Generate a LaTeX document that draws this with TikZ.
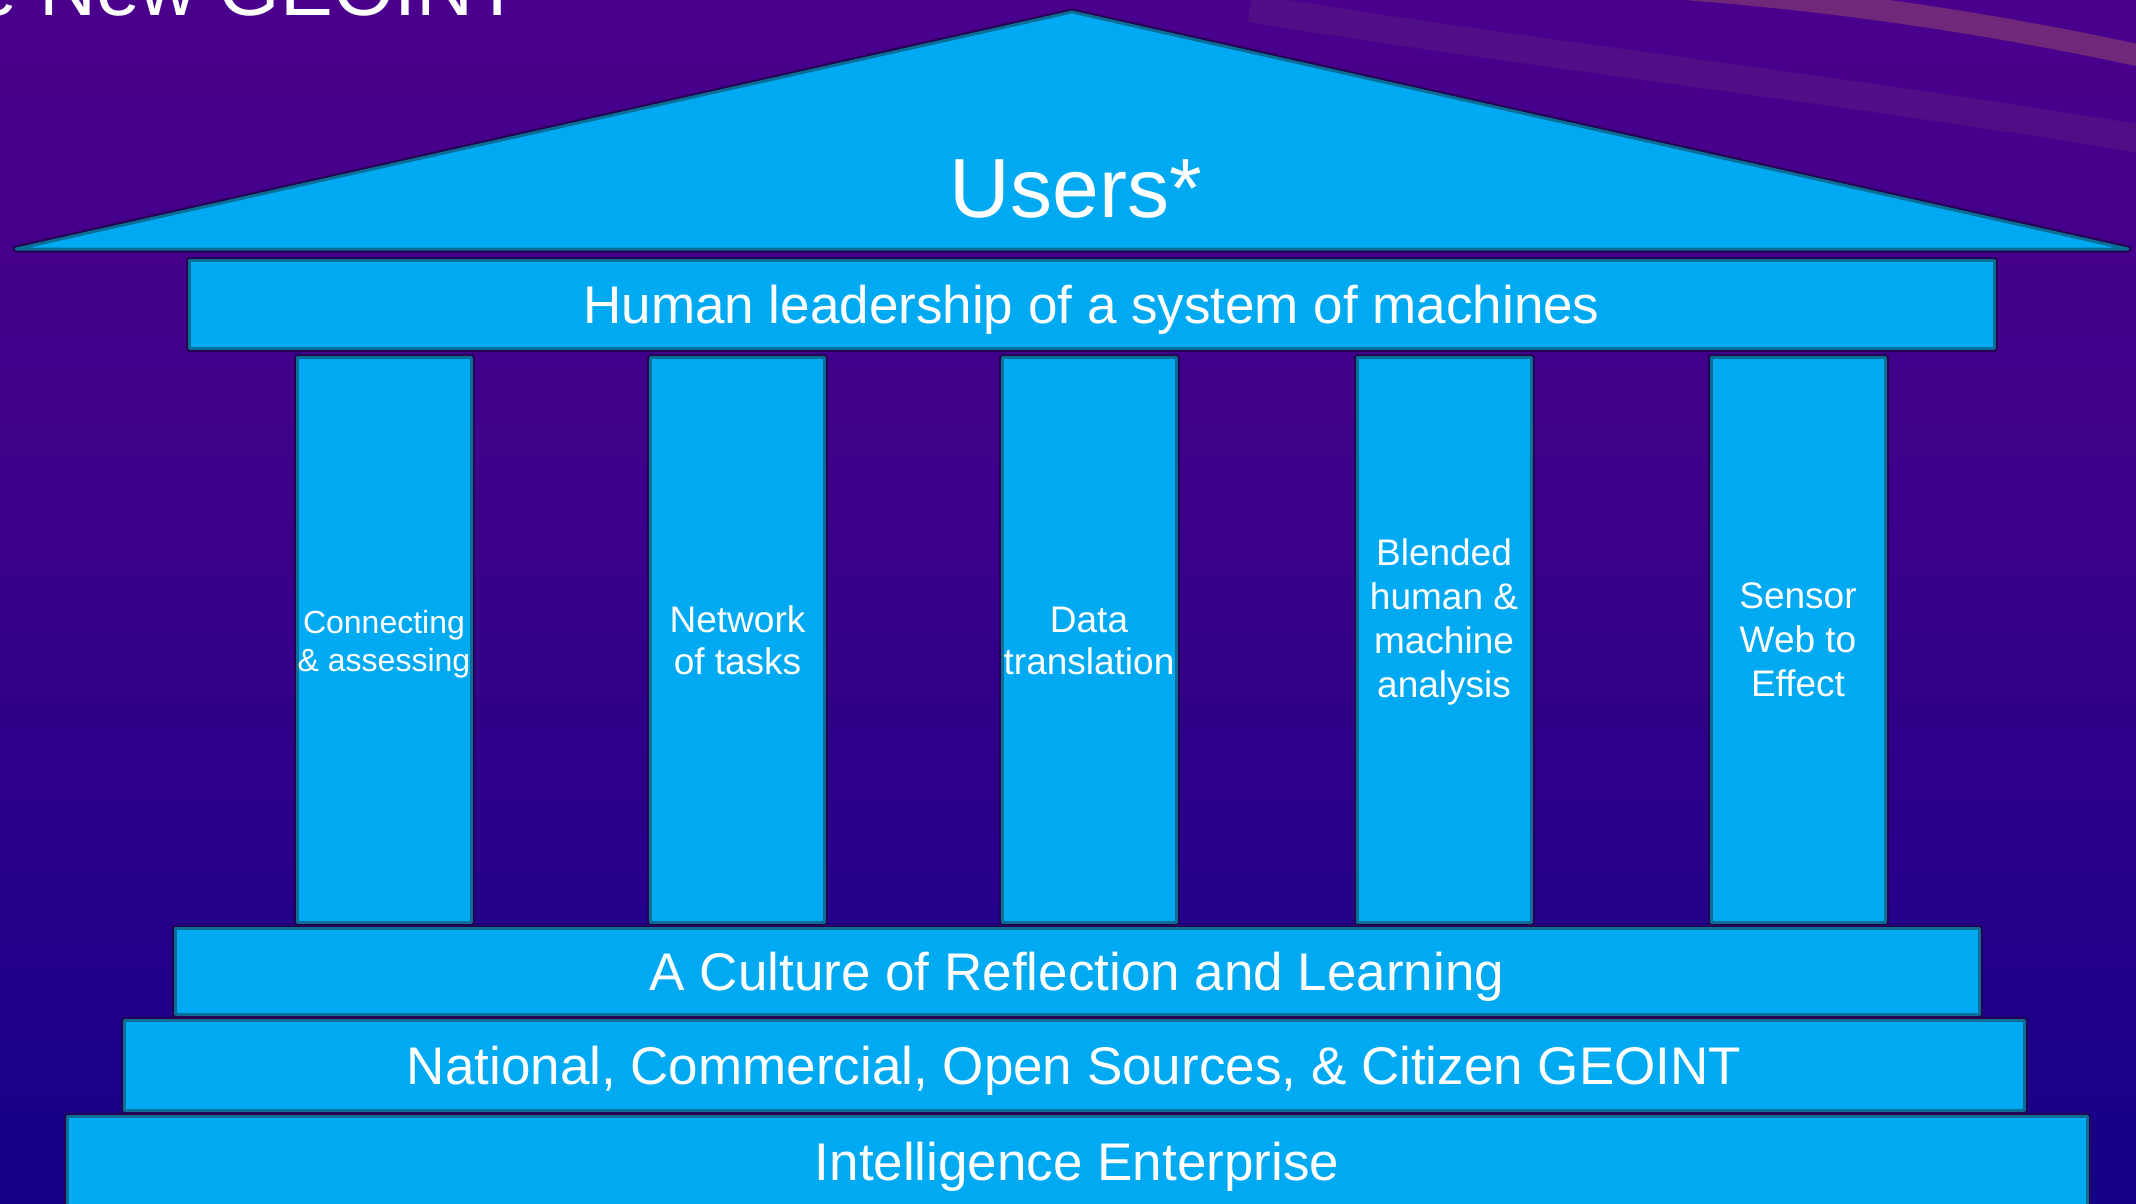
\documentclass[tikz,border=0pt]{standalone}
\usepackage{fontspec}
\setmainfont{Liberation Sans}
\definecolor{bgtop}{RGB}{74,0,140}
\definecolor{bgmid}{RGB}{62,0,138}
\definecolor{bgbot}{RGB}{20,0,136}
\definecolor{boxfill}{RGB}{0,170,242}
\definecolor{boxline}{RGB}{10,110,150}
\definecolor{outline}{RGB}{36,0,80}
\definecolor{swooshA}{RGB}{112,40,122}
\definecolor{swooshB}{RGB}{84,20,133}
\pgfdeclareverticalshading{bgshade}{100bp}{color(0bp)=(bgbot); color(25bp)=(bgbot); color(55bp)=(bgmid); color(75bp)=(bgtop); color(100bp)=(bgtop)}
\begin{document}
\begin{tikzpicture}[x=1pt,y=-1pt,
  box/.style={draw=boxline, line width=3pt, fill=boxfill, inner sep=0pt, outer sep=0pt,
    line join=round, preaction={draw=outline, line width=7pt, line join=round}},
  wtext/.style={text=white, inner sep=0pt},
  bigtext/.style={wtext, anchor=base, font=\fontsize{53}{64}\selectfont},
  coltext/.style={wtext, anchor=north, align=center},
  colbox/.style={box, minimum width=174pt, minimum height=565pt},
]
\useasboundingbox (0,0) rectangle (2136,1204);
\clip (0,0) rectangle (2136,1204);
\shade[shading=bgshade] (0,0) rectangle (2136,1204);
% swooshes
\draw[swooshB, line width=28pt, opacity=0.7] (1250,8) .. controls (1500,50) and (1850,90) .. (2160,142);
\draw[swooshA, line width=22pt] (1640,-14) .. controls (1800,-4) and (1970,18) .. (2160,60);
% title (cut off)
\node[wtext, anchor=base west, font=\fontsize{79}{90}\selectfont] (title) at (-27,16) {e New GEOINT};
% base layers
\node[box, minimum width=2020pt, minimum height=90pt] (intel) at (1077,1161) {};
\node[box, minimum width=1900pt, minimum height=90pt] (national) at (1074,1065) {};
\node[box, minimum width=1804pt, minimum height=86pt] (culture) at (1077,971) {};
\node[bigtext] (tintel) at (1077,1180) {Intelligence Enterprise};
\node[bigtext] (tnational) at (1074,1084) {National, Commercial, Open Sources, \& Citizen GEOINT};
\node[bigtext] (tculture) at (1077,990) {A Culture of Reflection and Learning};
% columns
\node[colbox] (col1) at (384,639.5) {};
\node[colbox] (col2) at (737.5,639.5) {};
\node[colbox] (col3) at (1089,639.5) {};
\node[colbox] (col4) at (1444,639.5) {};
\node[colbox] (col5) at (1798,639.5) {};
\node[coltext, font=\fontsize{32}{38}\selectfont] (t1) at (384,609) {\rule{0pt}{24pt}Connecting\\\& assessing};
\node[coltext, font=\fontsize{37}{42}\selectfont] (t2) at (737.5,604) {\rule{0pt}{28pt}Network\\of tasks};
\node[coltext, font=\fontsize{37}{42}\selectfont] (t3) at (1089,604) {\rule{0pt}{28pt}Data\\translation};
\node[coltext, font=\fontsize{37}{44}\selectfont] (t4) at (1444,537) {\rule{0pt}{28pt}Blended\\human \&\\machine\\analysis};
\node[coltext, font=\fontsize{37}{44}\selectfont] (t5) at (1798,580) {\rule{0pt}{28pt}Sensor\\Web to\\Effect};
% header bar
\node[box, minimum width=1805pt, minimum height=88pt] (header) at (1091.5,304) {};
\node[bigtext] (theader) at (1091.5,323) {Human leadership of a system of machines};
% roof
\coordinate (roofL) at (16,249);
\coordinate (roofT) at (1072,12);
\coordinate (roofR) at (2128,249);
\draw[box] (roofL) -- (roofT) -- (roofR) -- cycle;
\node[wtext, anchor=base, font=\fontsize{84}{100}\selectfont] (users) at (1076,217) {Users*};
\end{tikzpicture}
\end{document}
